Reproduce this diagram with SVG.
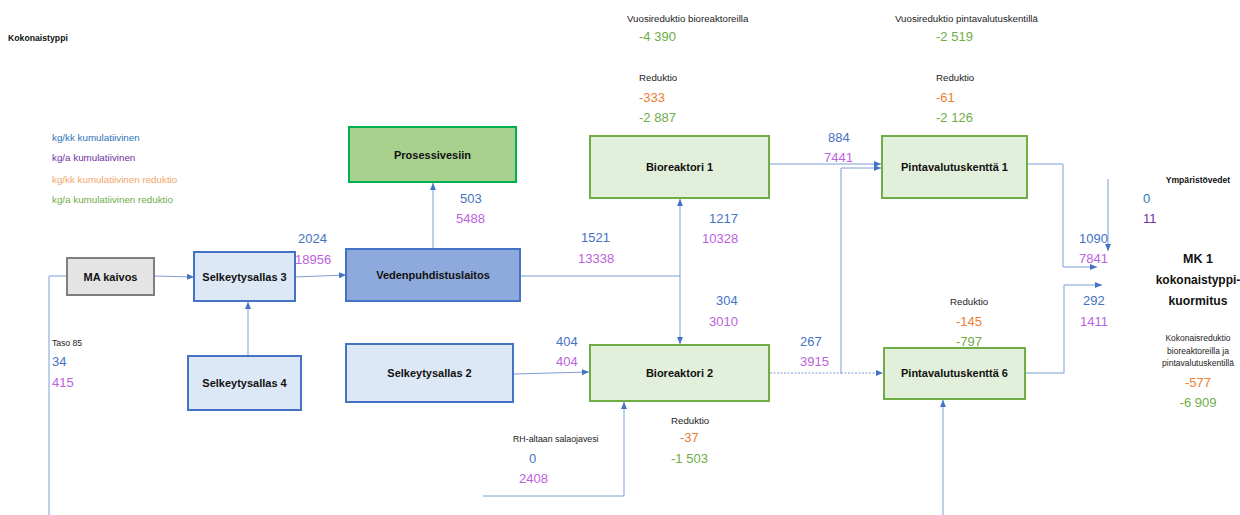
<svg xmlns="http://www.w3.org/2000/svg" width="1240" height="515" viewBox="0 0 1240 515">
<defs>
<marker id="arr" markerUnits="userSpaceOnUse" markerWidth="7" markerHeight="6" refX="7" refY="3" orient="auto">
<path d="M0,0 L7,3 L0,6 z" fill="#4472c4"/>
</marker>
<style>
text{font-family:"Liberation Sans",Arial,sans-serif}
.lbl{font-size:11px;font-weight:bold;fill:#111;text-anchor:middle}
.num{font-size:13px}
.b{fill:#4472c4}.p{fill:#bb62dd}.o{fill:#ed7d31}.g{fill:#70ad47}
.sm{font-size:9.7px;fill:#222}
.xs{font-size:8.5px;fill:#222}
.bl{fill:#dde8f6;stroke:#4472c4;stroke-width:2}
.gr{fill:#e2efda;stroke:#70ad47;stroke-width:2}
.c{fill:none;stroke:#7d9ed8;stroke-width:1}
.ca{fill:none;stroke:#7d9ed8;stroke-width:1;marker-end:url(#arr)}
.dot{stroke-dasharray:2 1.5}
</style>
</defs>
<rect width="1240" height="515" fill="#fff"/>

<g id="connectors">
<polyline class="c" points="67,276 49,276 49,515"/>
<line class="ca" x1="154" y1="276" x2="194" y2="277"/>
<line class="ca" x1="248" y1="355" x2="248" y2="302"/>
<line class="ca" x1="295" y1="277" x2="346" y2="275"/>
<line class="ca" x1="433" y1="249" x2="433" y2="183"/>
<line class="c" x1="521" y1="276" x2="680" y2="276"/>
<line class="ca" x1="680" y1="276" x2="680" y2="199"/>
<line class="ca" x1="680" y1="276" x2="680" y2="344"/>
<line class="ca" x1="770" y1="164" x2="881" y2="164"/>
<line class="c dot" x1="770" y1="373" x2="841" y2="373"/>
<polyline class="ca" points="841,373 841,168 881,168"/>
<line class="ca dot" x1="841" y1="373" x2="883" y2="373"/>
<line class="ca" x1="514" y1="374" x2="589" y2="372"/>
<polyline class="ca" points="483,496 624,496 624,402"/>
<line class="ca" x1="943" y1="515" x2="943" y2="400"/>
<polyline class="ca" points="1028,164 1063,164 1063,267 1097,267"/>
<polyline class="ca" points="1026,373 1064,373 1064,285 1102,285"/>
<line class="ca" x1="1108" y1="179" x2="1108" y2="251"/>
</g>

<g id="ma-kaivos">
<rect x="67" y="258" width="87" height="37" fill="#e4e4e4" stroke="#7f7f7f" stroke-width="2"/>
<text class="lbl" x="110.5" y="280.5">MA kaivos</text>
</g>
<g id="selkeytysallas-3">
<rect class="bl" x="194" y="252" width="101" height="49"/>
<text class="lbl" x="244.5" y="280.5">Selkeytysallas 3</text>
</g>
<g id="selkeytysallas-4">
<rect class="bl" x="188" y="356" width="113" height="54"/>
<text class="lbl" x="244.5" y="387">Selkeytysallas 4</text>
</g>
<g id="vedenpuhdistuslaitos">
<rect x="346" y="249" width="174" height="52" fill="#8eaadc" stroke="#4472c4" stroke-width="2"/>
<text class="lbl" x="433" y="279">Vedenpuhdistuslaitos</text>
</g>
<g id="prosessivesiin">
<rect x="349" y="127" width="167" height="55" fill="#a9d18e" stroke="#00b050" stroke-width="2"/>
<text class="lbl" x="432.5" y="158.5">Prosessivesiin</text>
</g>
<g id="bioreaktori-1">
<rect class="gr" x="590" y="136" width="179" height="62"/>
<text class="lbl" x="679.5" y="171">Bioreaktori 1</text>
</g>
<g id="pintavalutuskentta-1">
<rect class="gr" x="882" y="136" width="145" height="62"/>
<text class="lbl" x="954.5" y="171">Pintavalutuskenttä 1</text>
</g>
<g id="selkeytysallas-2">
<rect class="bl" x="346" y="344" width="167" height="58"/>
<text class="lbl" x="429.5" y="377">Selkeytysallas 2</text>
</g>
<g id="bioreaktori-2">
<rect class="gr" x="590" y="345" width="179" height="56"/>
<text class="lbl" x="679.5" y="377">Bioreaktori 2</text>
</g>
<g id="pintavalutuskentta-6">
<rect class="gr" x="884" y="348" width="141" height="51"/>
<text class="lbl" x="954.5" y="377">Pintavalutuskenttä 6</text>
</g>

<g id="labels">
<text x="8" y="41" style="font-size:8.7px;font-weight:bold;fill:#111">Kokonaistyppi</text>
<text x="52" y="141" style="font-size:9.8px;fill:#2e75b6">kg/kk kumulatiivinen</text>
<text x="52" y="161" style="font-size:9.8px;fill:#7030a0">kg/a kumulatiivinen</text>
<text x="52" y="183" style="font-size:9.8px;fill:#f4a46a">kg/kk kumulatiivinen reduktio</text>
<text x="52" y="203" style="font-size:9.8px;fill:#70ad47">kg/a kumulatiivinen reduktio</text>

<text class="num b" x="298" y="243">2024</text>
<text class="num p" x="295" y="264">18956</text>
<text class="num b" x="460" y="203">503</text>
<text class="num p" x="456" y="223">5488</text>
<text class="num b" x="581" y="242">1521</text>
<text class="num p" x="578" y="263">13338</text>
<text class="num b" x="709" y="223">1217</text>
<text class="num p" x="702" y="243">10328</text>
<text class="num b" x="828" y="142">884</text>
<text class="num p" x="824" y="162">7441</text>
<text class="num b" x="716" y="305">304</text>
<text class="num p" x="709" y="326">3010</text>
<text class="num b" x="800" y="346">267</text>
<text class="num p" x="800" y="366">3915</text>
<text class="num b" x="556" y="346">404</text>
<text class="num p" x="556" y="366">404</text>

<text x="513" y="442" style="font-size:8.8px;fill:#222">RH-altaan salaojavesi</text>
<text class="num b" x="529" y="463">0</text>
<text class="num p" x="519" y="483">2408</text>

<text class="sm" x="671" y="424">Reduktio</text>
<text class="num o" x="680" y="442">-37</text>
<text class="num g" x="671" y="463">-1 503</text>

<text class="sm" x="950" y="305">Reduktio</text>
<text class="num o" x="956" y="326">-145</text>
<text class="num g" x="956" y="346">-797</text>

<text class="sm" x="627" y="22">Vuosireduktio bioreaktoreilla</text>
<text class="num g" x="639" y="41">-4 390</text>
<text class="sm" x="639" y="81">Reduktio</text>
<text class="num o" x="639" y="102">-333</text>
<text class="num g" x="639" y="122">-2 887</text>

<text class="sm" x="895" y="22">Vuosireduktio pintavalutuskentillä</text>
<text class="num g" x="936" y="41">-2 519</text>
<text class="sm" x="936" y="81">Reduktio</text>
<text class="num o" x="936" y="102">-61</text>
<text class="num g" x="936" y="122">-2 126</text>

<text x="1198" y="183" style="font-size:8.6px;font-weight:bold;fill:#111;text-anchor:middle">Ympäristövedet</text>
<text class="num" x="1143" y="203" style="fill:#2e75b6">0</text>
<text class="num" x="1143" y="223" style="fill:#7030a0">11</text>

<text class="num b" x="1079" y="243">1090</text>
<text class="num p" x="1079" y="263">7841</text>
<text class="num b" x="1083" y="305">292</text>
<text class="num p" x="1080" y="326">1411</text>

<text x="1198" y="263" style="font-size:12.5px;font-weight:bold;fill:#111;text-anchor:middle">MK 1</text>
<text x="1198" y="284" style="font-size:12px;font-weight:bold;fill:#111;text-anchor:middle">kokonaistyppi-</text>
<text x="1198" y="305" style="font-size:12.2px;font-weight:bold;fill:#111;text-anchor:middle">kuormitus</text>

<text class="xs" x="1198" y="341" text-anchor="middle">Kokonaisreduktio</text>
<text class="xs" x="1198" y="353.5" text-anchor="middle">bioreaktoreilla ja</text>
<text class="xs" x="1198" y="366" text-anchor="middle">pintavalutuskentillä</text>
<text class="num o" x="1198" y="387" text-anchor="middle">-577</text>
<text class="num g" x="1198" y="407" text-anchor="middle">-6 909</text>

<text x="52" y="346" style="font-size:8.6px;fill:#222">Taso 85</text>
<text class="num b" x="52" y="366">34</text>
<text class="num p" x="52" y="387">415</text>
</g>
</svg>
